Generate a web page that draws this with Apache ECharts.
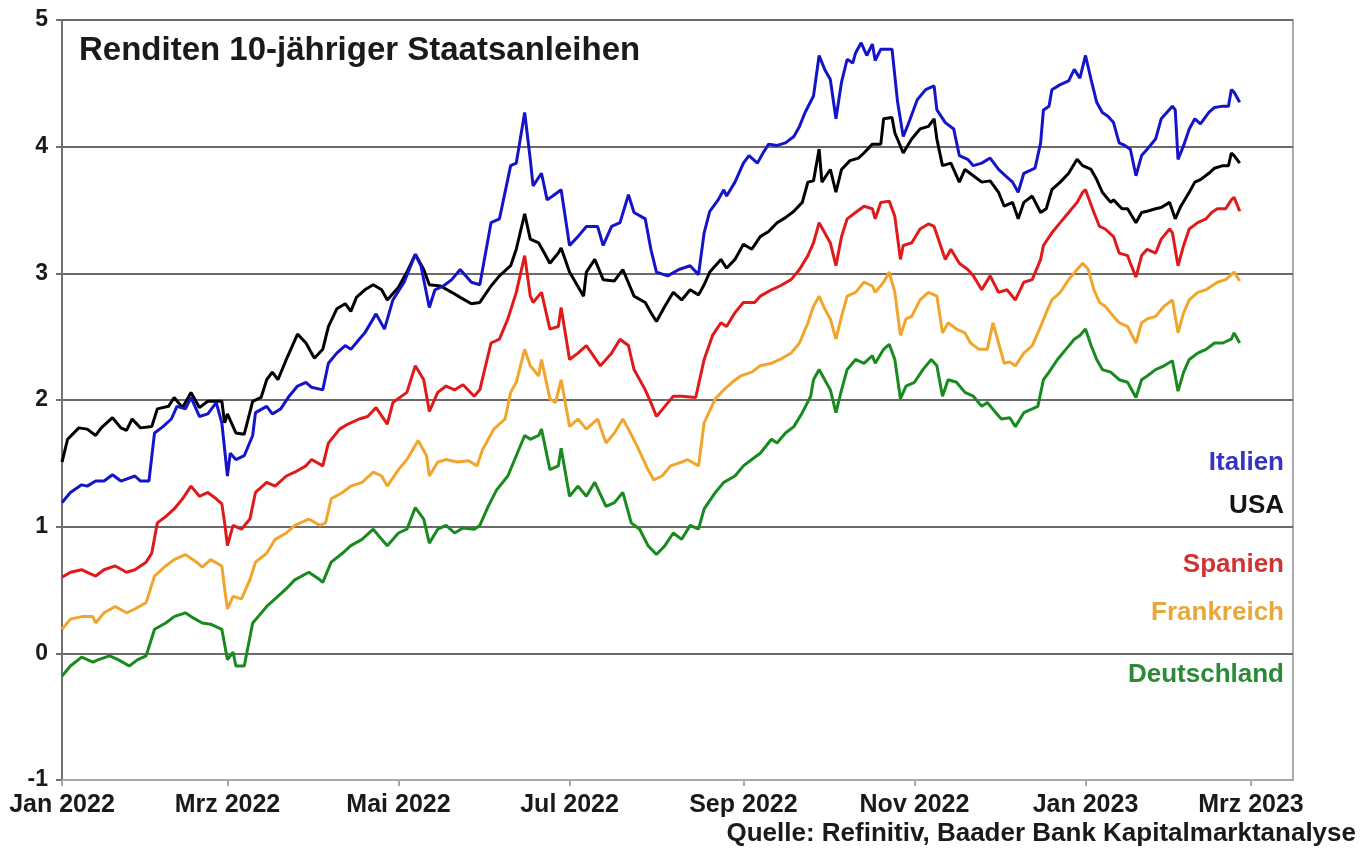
<!DOCTYPE html>
<html>
<head>
<meta charset="utf-8">
<title>Renditen 10-jähriger Staatsanleihen</title>
<script src="https://cdn.jsdelivr.net/npm/echarts@6/dist/echarts.min.js"></script>
<style>
  html, body { margin: 0; padding: 0; background: #ffffff; }
  #chart { width: 1371px; height: 854px; }
</style>
</head>
<body>
<div id="chart"></div>
<script>
// Yields of 10-year government bonds, in percent.
// Each point is [days since 1 Jan 2022, yield].
const italien = [
  [0,1.19],[3,1.27],[7,1.33],[9,1.32],[12,1.36],[15,1.36],[18,1.41],[21,1.36],[26,1.40],[28,1.36],[31,1.36],
  [33,1.74],[36,1.79],[39,1.85],[41,1.95],[44,1.93],[46,2.02],[49,1.87],[52,1.89],[55,1.98],[57,1.82],[59,1.40],
  [60,1.58],[62,1.53],[65,1.56],[68,1.72],[69,1.90],[73,1.95],[75,1.89],[78,1.93],[81,2.03],[84,2.11],[87,2.14],
  [89,2.10],[93,2.08],[95,2.29],[98,2.37],[101,2.43],[103,2.40],[106,2.48],[108,2.53],[112,2.68],[115,2.56],
  [118,2.79],[122,2.93],[126,3.15],[128,3.06],[131,2.73],[133,2.87],[136,2.90],[139,2.95],[142,3.03],[146,2.93],
  [149,2.91],[153,3.40],[156,3.43],[160,3.85],[162,3.87],[165,4.27],[167,3.90],[168,3.69],[171,3.79],[173,3.58],
  [175,3.61],[178,3.66],[181,3.22],[184,3.29],[187,3.37],[191,3.37],[193,3.22],[196,3.37],[199,3.40],[202,3.62],
  [204,3.48],[208,3.43],[210,3.19],[212,3.01],[216,2.98],[220,3.03],[224,3.06],[227,2.99],[229,3.32],[231,3.49],
  [234,3.58],[236,3.66],[237,3.61],[240,3.72],[243,3.87],[245,3.93],[248,3.87],[250,3.95],[252,4.02],[255,4.01],
  [258,4.03],[261,4.08],[263,4.16],[265,4.27],[268,4.40],[270,4.72],[272,4.61],[274,4.53],[276,4.22],[278,4.51],
  [280,4.69],[282,4.66],[283,4.74],[285,4.82],[287,4.72],[289,4.81],[290,4.68],[292,4.77],[296,4.77],[298,4.35],
  [300,4.08],[302,4.19],[305,4.37],[308,4.45],[311,4.48],[312,4.29],[315,4.19],[318,4.14],[320,3.93],[323,3.90],
  [325,3.85],[328,3.87],[331,3.91],[334,3.82],[336,3.78],[339,3.72],[341,3.64],[343,3.79],[347,3.83],[349,4.03],
  [350,4.29],[352,4.32],[353,4.45],[356,4.49],[359,4.52],[361,4.61],[363,4.54],[365,4.72],[367,4.53],[369,4.35],
  [371,4.27],[373,4.24],[375,4.19],[377,4.03],[379,4.01],[381,3.98],[383,3.77],[385,3.93],[387,3.98],[390,4.06],
  [392,4.22],[394,4.27],[396,4.32],[397,4.29],[398,3.90],[400,4.01],[402,4.14],[404,4.22],[406,4.18],[409,4.27],
  [411,4.31],[414,4.32],[416,4.32],[417,4.45],[418,4.43],[420,4.35]
];

const usa = [
  [0,1.51],[2,1.69],[6,1.78],[9,1.77],[12,1.72],[14,1.78],[18,1.86],[21,1.78],[23,1.76],[25,1.85],[28,1.78],
  [32,1.79],[34,1.93],[38,1.95],[40,2.02],[43,1.94],[46,2.06],[49,1.94],[52,1.99],[57,1.99],[58,1.82],[59,1.89],
  [62,1.74],[65,1.73],[68,1.99],[71,2.02],[73,2.16],[75,2.22],[77,2.16],[80,2.32],[81,2.37],[84,2.52],[87,2.45],
  [90,2.33],[93,2.40],[95,2.58],[98,2.72],[101,2.76],[103,2.70],[105,2.81],[108,2.87],[111,2.91],[114,2.87],
  [116,2.79],[120,2.89],[123,3.01],[126,3.15],[129,3.03],[131,2.91],[135,2.90],[139,2.85],[142,2.81],[146,2.76],
  [149,2.77],[153,2.90],[156,2.98],[160,3.06],[162,3.19],[165,3.47],[167,3.27],[170,3.24],[172,3.16],[174,3.08],
  [177,3.16],[178,3.20],[181,3.01],[186,2.82],[187,3.01],[190,3.11],[193,2.95],[197,2.94],[200,3.03],[204,2.82],
  [208,2.77],[210,2.69],[212,2.62],[215,2.74],[218,2.85],[221,2.79],[224,2.87],[227,2.83],[229,2.91],[231,3.01],
  [235,3.11],[237,3.04],[240,3.11],[243,3.23],[246,3.19],[249,3.29],[252,3.33],[255,3.40],[258,3.44],[261,3.49],
  [264,3.56],[266,3.72],[268,3.73],[270,3.98],[271,3.72],[274,3.82],[276,3.64],[278,3.82],[281,3.89],[284,3.91],
  [286,3.95],[289,4.02],[292,4.02],[293,4.22],[296,4.23],[297,4.11],[300,3.95],[303,4.06],[306,4.14],[309,4.16],
  [311,4.22],[312,4.06],[314,3.85],[317,3.87],[320,3.72],[322,3.82],[325,3.77],[328,3.72],[331,3.73],[334,3.64],
  [336,3.53],[339,3.56],[341,3.43],[343,3.56],[346,3.61],[349,3.48],[351,3.51],[353,3.66],[356,3.72],[359,3.79],
  [362,3.90],[364,3.85],[367,3.82],[369,3.74],[371,3.64],[374,3.56],[375,3.58],[378,3.51],[380,3.51],[383,3.40],
  [385,3.48],[387,3.49],[390,3.51],[392,3.52],[395,3.56],[397,3.43],[399,3.53],[402,3.64],[404,3.72],[406,3.74],
  [409,3.79],[411,3.83],[414,3.85],[416,3.85],[417,3.95],[418,3.93],[420,3.87]
];

const spanien = [
  [0,0.60],[3,0.64],[7,0.66],[9,0.64],[12,0.61],[15,0.66],[19,0.69],[23,0.64],[26,0.66],[30,0.72],[32,0.79],
  [34,1.03],[37,1.08],[40,1.14],[43,1.22],[46,1.32],[49,1.24],[52,1.27],[55,1.22],[57,1.18],[58,1.03],[59,0.85],
  [61,1.01],[64,0.98],[67,1.06],[69,1.27],[73,1.35],[76,1.32],[80,1.40],[83,1.43],[87,1.48],[89,1.53],[93,1.48],
  [95,1.66],[99,1.77],[102,1.81],[106,1.85],[109,1.87],[112,1.94],[116,1.81],[118,1.98],[123,2.06],[126,2.27],
  [129,2.16],[131,1.91],[134,2.06],[137,2.11],[140,2.08],[143,2.12],[147,2.03],[149,2.08],[153,2.45],[156,2.48],
  [159,2.64],[162,2.85],[165,3.14],[167,2.82],[168,2.77],[171,2.85],[174,2.56],[177,2.58],[178,2.73],[181,2.32],
  [184,2.37],[187,2.43],[192,2.27],[196,2.37],[199,2.48],[202,2.43],[204,2.24],[208,2.08],[210,1.98],[212,1.87],
  [215,1.95],[218,2.03],[221,2.03],[226,2.02],[229,2.32],[232,2.51],[235,2.61],[237,2.58],[240,2.69],[243,2.77],
  [247,2.77],[249,2.82],[253,2.87],[256,2.90],[260,2.95],[263,3.03],[266,3.14],[268,3.24],[270,3.40],[272,3.32],
  [274,3.24],[276,3.06],[278,3.29],[280,3.43],[283,3.48],[286,3.53],[289,3.51],[290,3.43],[292,3.56],[295,3.57],
  [297,3.45],[299,3.11],[300,3.22],[303,3.24],[306,3.35],[309,3.39],[311,3.37],[313,3.24],[315,3.11],[317,3.19],
  [320,3.08],[323,3.03],[325,2.98],[328,2.87],[331,2.98],[334,2.85],[337,2.87],[340,2.79],[343,2.93],[346,2.95],
  [349,3.11],[350,3.22],[353,3.32],[356,3.40],[359,3.48],[362,3.56],[364,3.64],[365,3.66],[368,3.48],[370,3.37],
  [372,3.35],[375,3.29],[377,3.16],[380,3.14],[381,3.08],[383,2.97],[385,3.14],[387,3.19],[390,3.16],[392,3.27],
  [395,3.35],[396,3.32],[398,3.06],[400,3.22],[402,3.35],[405,3.40],[408,3.43],[410,3.48],[412,3.51],[415,3.51],
  [417,3.58],[418,3.60],[420,3.49]
];

const frankreich = [
  [0,0.19],[3,0.27],[7,0.29],[11,0.29],[12,0.24],[15,0.32],[19,0.37],[23,0.32],[26,0.35],[30,0.40],[33,0.61],
  [37,0.69],[40,0.74],[44,0.78],[48,0.72],[50,0.68],[53,0.74],[57,0.69],[58,0.51],[59,0.35],[61,0.45],[64,0.43],
  [67,0.58],[69,0.72],[73,0.79],[76,0.90],[80,0.95],[83,1.01],[88,1.06],[92,1.01],[94,1.03],[96,1.22],[100,1.27],
  [103,1.32],[107,1.35],[111,1.43],[114,1.40],[116,1.32],[120,1.45],[123,1.53],[127,1.68],[130,1.56],[131,1.40],
  [134,1.51],[137,1.53],[141,1.51],[145,1.52],[148,1.48],[150,1.61],[154,1.77],[158,1.85],[160,2.06],[162,2.14],
  [165,2.40],[167,2.27],[170,2.19],[171,2.32],[174,2.01],[176,1.98],[178,2.16],[181,1.79],[184,1.85],[187,1.77],
  [191,1.85],[194,1.66],[197,1.74],[200,1.85],[202,1.77],[205,1.64],[209,1.45],[211,1.37],[214,1.40],[217,1.48],
  [221,1.51],[223,1.53],[227,1.48],[229,1.82],[233,2.01],[236,2.08],[239,2.14],[242,2.19],[246,2.22],[249,2.27],
  [253,2.29],[256,2.32],[260,2.37],[263,2.45],[266,2.61],[268,2.74],[270,2.82],[272,2.72],[274,2.64],[276,2.48],
  [278,2.66],[280,2.82],[283,2.85],[286,2.93],[289,2.90],[290,2.85],[293,2.93],[295,3.01],[297,2.85],[299,2.51],
  [301,2.64],[303,2.66],[306,2.79],[309,2.85],[312,2.82],[314,2.53],[316,2.61],[319,2.56],[322,2.53],[324,2.45],
  [327,2.40],[330,2.40],[332,2.61],[334,2.45],[336,2.29],[338,2.30],[340,2.27],[343,2.37],[346,2.43],[349,2.58],
  [351,2.69],[353,2.79],[356,2.85],[359,2.95],[362,3.03],[364,3.08],[366,3.03],[368,2.87],[370,2.77],[372,2.74],
  [375,2.66],[377,2.61],[380,2.58],[383,2.45],[385,2.61],[387,2.64],[390,2.66],[393,2.74],[396,2.79],[398,2.53],
  [400,2.69],[402,2.79],[405,2.85],[408,2.87],[410,2.90],[412,2.93],[415,2.95],[418,3.01],[420,2.94]
];

const deutschland = [
  [0,-0.18],[3,-0.10],[7,-0.03],[11,-0.07],[13,-0.05],[17,-0.02],[20,-0.05],[24,-0.10],[27,-0.05],[30,-0.02],
  [33,0.19],[37,0.24],[40,0.29],[44,0.32],[46,0.29],[50,0.24],[53,0.23],[57,0.19],[59,-0.05],[61,0.01],[62,-0.10],
  [65,-0.10],[68,0.24],[70,0.29],[73,0.37],[76,0.43],[80,0.51],[83,0.58],[88,0.64],[92,0.58],[93,0.56],[96,0.72],
  [100,0.79],[103,0.85],[107,0.90],[111,0.98],[114,0.90],[116,0.85],[120,0.95],[123,0.98],[126,1.15],[129,1.06],
  [131,0.87],[134,0.98],[137,1.01],[140,0.95],[143,0.99],[147,0.98],[149,1.01],[152,1.16],[155,1.29],[159,1.40],
  [162,1.56],[165,1.72],[167,1.69],[170,1.72],[171,1.77],[174,1.45],[177,1.48],[178,1.62],[181,1.24],[184,1.32],
  [187,1.24],[190,1.35],[194,1.16],[197,1.19],[200,1.27],[203,1.03],[206,0.98],[209,0.85],[212,0.78],[215,0.85],
  [218,0.95],[221,0.90],[224,1.01],[227,0.98],[229,1.14],[233,1.27],[236,1.35],[240,1.40],[243,1.48],[246,1.53],
  [249,1.58],[253,1.69],[255,1.66],[258,1.74],[261,1.79],[264,1.90],[267,2.03],[268,2.16],[270,2.24],[272,2.16],
  [274,2.08],[276,1.90],[278,2.08],[280,2.24],[283,2.32],[286,2.29],[289,2.35],[290,2.29],[293,2.40],[295,2.44],
  [297,2.32],[299,2.01],[301,2.11],[304,2.14],[307,2.24],[310,2.32],[312,2.27],[314,2.03],[316,2.16],[319,2.14],
  [322,2.06],[325,2.03],[328,1.95],[330,1.98],[333,1.90],[335,1.85],[338,1.86],[340,1.79],[343,1.90],[346,1.93],
  [348,1.95],[350,2.16],[352,2.22],[355,2.32],[358,2.40],[361,2.48],[363,2.51],[365,2.56],[367,2.43],[369,2.32],
  [371,2.24],[374,2.22],[377,2.16],[380,2.14],[383,2.02],[385,2.16],[387,2.19],[390,2.24],[393,2.27],[396,2.31],
  [398,2.07],[400,2.22],[402,2.32],[405,2.37],[408,2.40],[411,2.45],[414,2.45],[417,2.48],[418,2.53],[420,2.45]
];

// Month ticks on the date axis and their labels
const tickDates = ['2022-01-01','2022-03-01','2022-05-01','2022-07-01','2022-09-01','2022-11-01','2023-01-01','2023-03-01'];
const tickLabels = ['Jan 2022','Mrz 2022','Mai 2022','Jul 2022','Sep 2022','Nov 2022','Jan 2023','Mrz 2023'];
const axisEndDate = '2023-03-16';
const yTicks = [-1, 0, 1, 2, 3, 4, 5];

const seriesNames = ['Italien', 'USA', 'Spanien', 'Frankreich', 'Deutschland'];
const seriesColors = ['#1414c8', '#000000', '#e01a1a', '#f2a52c', '#188a1e'];
const labelColors = ['#3434c0', '#141414', '#d23232', '#e9a73a', '#2a8a36'];

const FONT = '"Liberation Sans", Arial, Helvetica, sans-serif';
const DAY_MS = 86400000;

// Whole days between 1 Jan 2022 and an ISO date
function dayOf(iso) {
  const p = iso.split('-').map(Number);
  return Math.round((Date.UTC(p[0], p[1] - 1, p[2]) - Date.UTC(2022, 0, 1)) / DAY_MS);
}
const tickDays = tickDates.map(dayOf);
const seriesData = [italien, usa, spanien, frankreich, deutschland];

const chart = echarts.init(document.getElementById('chart'), null, { renderer: 'canvas' });

// Right-hand country labels
const labelY = [463, 506, 565, 613, 675];
const countryLabels = seriesNames.map((name, i) => ({
  type: 'text',
  x: 1284,
  y: labelY[i],
  style: {
    text: name,
    fill: labelColors[i],
    font: 'bold 26px ' + FONT,
    align: 'right',
    verticalAlign: 'middle'
  }
}));

const option = {
  animation: false,
  backgroundColor: '#ffffff',
  title: {
    text: 'Renditen 10-jähriger Staatsanleihen',
    left: 79,
    top: 34,
    padding: 0,
    textStyle: { fontFamily: FONT, fontWeight: 'bold', fontSize: 33, color: '#1a1a1a' }
  },
  grid: {
    left: 62,
    right: 78,
    top: 20,
    bottom: 74,
    show: true,
    borderColor: '#ababab',
    borderWidth: 2,
    backgroundColor: 'transparent'
  },
  xAxis: {
    type: 'value',
    min: 0,
    max: dayOf(axisEndDate),
    axisLine: { show: true, onZero: false, lineStyle: { color: '#a8a8a8', width: 2 } },
    axisTick: {
      show: true,
      length: 6,
      customValues: tickDays,
      lineStyle: { color: '#a8a8a8', width: 2 }
    },
    axisLabel: {
      customValues: tickDays,
      margin: 13,
      fontFamily: FONT,
      fontWeight: 'bold',
      fontSize: 25,
      color: '#1a1a1a',
      formatter: function (value) {
        const i = tickDays.indexOf(Math.round(value));
        return i >= 0 ? tickLabels[i] : '';
      }
    },
    splitLine: { show: false }
  },
  yAxis: {
    type: 'value',
    min: yTicks[0],
    max: yTicks[yTicks.length - 1],
    interval: 1,
    axisLine: { show: true, lineStyle: { color: '#707070', width: 2 } },
    axisTick: { show: true, length: 6, lineStyle: { color: '#707070', width: 2 } },
    axisLabel: {
      margin: 14,
      fontFamily: FONT,
      fontWeight: 'bold',
      fontSize: 23,
      color: '#1a1a1a'
    },
    splitLine: { show: true, lineStyle: { color: '#6a6a6a', width: 2 } }
  },
  series: seriesNames.map((name, i) => ({
    name: name,
    type: 'line',
    data: seriesData[i],
    showSymbol: false,
    smooth: false,
    z: 10 - i,
    lineStyle: { color: seriesColors[i], width: 3 },
    itemStyle: { color: seriesColors[i] }
  })),
  graphic: countryLabels.concat([
    {
      type: 'text',
      x: 1356,
      y: 834,
      style: {
        text: 'Quelle: Refinitiv, Baader Bank Kapitalmarktanalyse',
        fill: '#1a1a1a',
        font: 'bold 26px ' + FONT,
        align: 'right',
        verticalAlign: 'middle'
      }
    }
  ])
};

chart.setOption(option);
</script>
</body>
</html>
